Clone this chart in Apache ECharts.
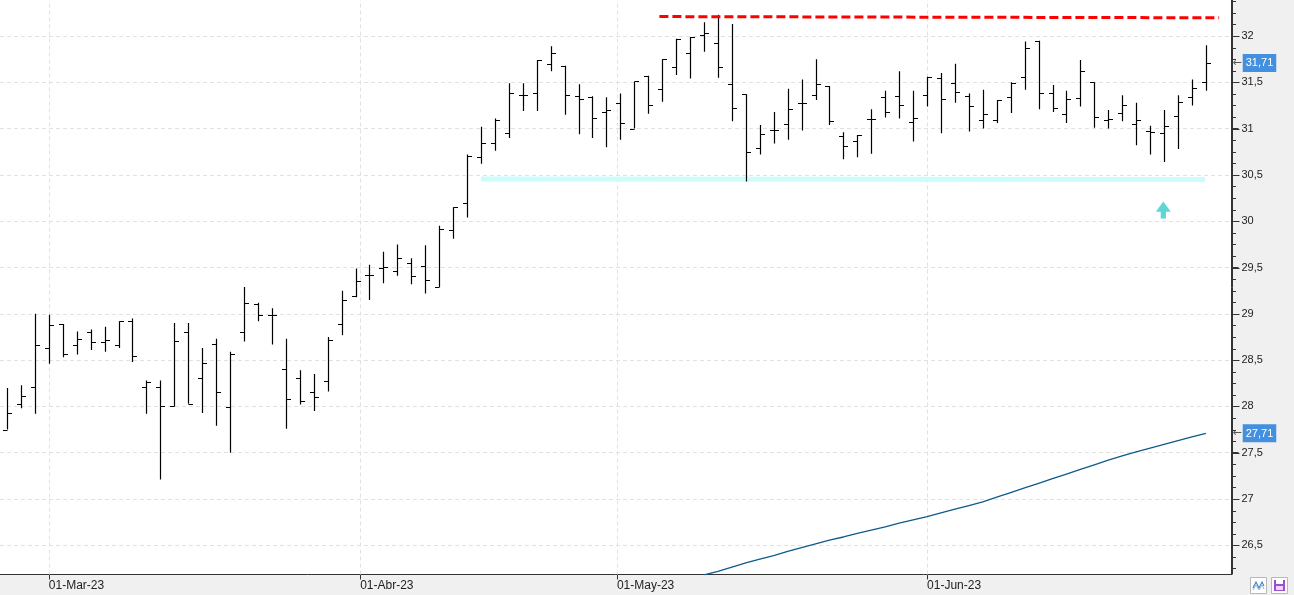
<!DOCTYPE html>
<html>
<head>
<meta charset="utf-8">
<script src="https://cdn.jsdelivr.net/npm/echarts@6/dist/echarts.min.js"></script>
<style>html,body{margin:0;padding:0;background:#f0f0f0}#c{width:1294px;height:595px}</style>
</head>
<body>
<div id="c"></div>
<script>
// ---- data (trading days) ----
const dates = [
 '2023-02-24','2023-02-27','2023-02-28',
 '2023-03-01','2023-03-02','2023-03-03','2023-03-06','2023-03-07','2023-03-08','2023-03-09','2023-03-10',
 '2023-03-13','2023-03-14','2023-03-15','2023-03-16','2023-03-17','2023-03-20','2023-03-21','2023-03-22',
 '2023-03-23','2023-03-24','2023-03-27','2023-03-28','2023-03-29','2023-03-30','2023-03-31',
 '2023-04-03','2023-04-04','2023-04-05','2023-04-06','2023-04-11','2023-04-12','2023-04-13','2023-04-14',
 '2023-04-17','2023-04-18','2023-04-19','2023-04-20','2023-04-21','2023-04-24','2023-04-25','2023-04-26',
 '2023-04-27','2023-04-28',
 '2023-05-02','2023-05-03','2023-05-04','2023-05-05','2023-05-08','2023-05-09','2023-05-10','2023-05-11',
 '2023-05-12','2023-05-15','2023-05-16','2023-05-17','2023-05-18','2023-05-19','2023-05-22','2023-05-23',
 '2023-05-24','2023-05-25','2023-05-26','2023-05-29','2023-05-30','2023-05-31',
 '2023-06-01','2023-06-02','2023-06-05','2023-06-06','2023-06-07','2023-06-08','2023-06-09','2023-06-12',
 '2023-06-13','2023-06-14','2023-06-15','2023-06-16','2023-06-19','2023-06-20','2023-06-21','2023-06-22',
 '2023-06-23','2023-06-26','2023-06-27','2023-06-28','2023-06-29'
];
const opens = [27.75,28.03,28.21,28.63,28.89,28.66,28.80,28.70,28.66,28.92,28.21,28.21,28.00,28.80,28.31,28.67,27.99,28.80,29.11,28.99,28.40,28.31,28.16,28.27,28.89,29.19,29.42,29.50,29.46,29.55,29.52,29.29,29.91,30.20,30.69,30.85,30.95,31.36,31.38,31.70,31.68,31.35,31.34,31.18,31.28,31.00,31.57,31.43,31.67,31.82,32.01,31.93,31.48,31.37,30.79,30.98,31.05,31.28,31.36,31.46,30.92,30.87,31.10,31.34,31.35,31.07,31.36,31.55,31.49,31.35,31.09,31.09,31.34,31.56,31.95,31.38,31.16,31.33,31.50,31.09,31.17,31.05,30.97,30.95,31.14,31.34,31.50];
const highs = [28.20,28.23,29.00,28.99,28.89,28.81,28.83,28.86,28.92,28.95,28.28,28.28,28.90,28.90,28.63,28.73,28.59,29.29,29.12,29.06,28.73,28.39,28.35,28.75,29.25,29.49,29.53,29.67,29.75,29.60,29.74,29.95,30.15,30.72,31.02,31.11,31.49,31.49,31.74,31.89,31.68,31.48,31.35,31.34,31.38,31.51,31.57,31.75,31.97,31.99,32.15,32.23,32.13,31.37,31.04,31.18,31.43,31.53,31.75,31.46,30.96,30.93,31.21,31.41,31.62,31.41,31.56,31.60,31.70,31.38,31.42,31.31,31.50,31.94,31.95,31.47,31.41,31.74,31.50,31.20,31.36,31.28,31.03,31.20,31.36,31.53,31.90];
const lows = [27.75,27.98,27.92,28.46,28.53,28.56,28.61,28.59,28.63,28.48,27.92,27.21,28.00,28.03,27.93,27.79,27.50,28.70,28.92,28.67,27.76,28.02,27.95,28.16,28.77,29.18,29.15,29.33,29.41,29.32,29.22,29.29,29.81,30.04,30.62,30.76,30.90,31.19,31.19,31.62,31.15,30.94,30.90,30.80,30.88,31.00,31.16,31.29,31.58,31.54,31.83,31.55,31.08,30.43,30.72,30.84,30.88,30.98,31.31,31.04,30.67,30.69,30.73,31.12,31.11,30.86,31.24,30.95,31.28,30.97,31.00,31.06,31.17,31.42,31.21,31.18,31.06,31.24,31.01,31.00,31.08,30.82,30.72,30.64,30.78,31.25,31.41];
const closes = [27.93,28.11,28.66,28.88,28.57,28.73,28.70,28.72,28.92,28.54,28.26,28.00,28.71,28.03,28.47,28.16,28.57,29.12,28.99,28.99,28.08,28.06,28.10,28.72,29.15,29.35,29.42,29.51,29.60,29.41,29.37,29.92,30.15,30.70,30.85,31.09,31.39,31.36,31.74,31.82,31.36,31.32,31.11,31.20,31.06,31.51,31.25,31.75,31.97,31.99,32.03,31.67,31.22,30.75,30.94,30.98,31.21,31.28,31.48,31.08,30.81,30.93,31.10,31.18,31.26,31.11,31.56,31.32,31.40,31.24,31.16,31.31,31.49,31.87,31.38,31.22,31.32,31.62,31.13,31.10,31.26,31.09,30.96,31.03,31.29,31.44,31.71];
// moving average (visible part, starting at trading-day index maStart)
const maStart = 50;
const maValues = [26.18,26.22,26.265,26.31,26.35,26.39,26.435,26.475,26.515,26.555,26.59,26.63,26.665,26.70,26.74,26.775,26.81,26.85,26.89,26.93,26.97,27.02,27.07,27.12,27.17,27.22,27.27,27.32,27.37,27.42,27.465,27.51,27.55,27.59,27.63,27.67,27.71];
// drawn annotations: [trading-day index, price]
const resistance = [[46.8, 32.21], [86.95, 32.197]];
const support = [[34.0, 30.455], [85.95, 30.45]];
const signalArrow = [[82.95, 30.12]];
// axis ticks
const monthStarts = ['2023-03-01','2023-04-01','2023-05-01','2023-06-01'];
const monthLabels = ['01-Mar-23','01-Abr-23','01-May-23','01-Jun-23'];
const yMajorTicks = [26.5,27,27.5,28,28.5,29,29.5,30,30.5,31,31.5,32];
const yMinorStep = 0.125;

// ---- build ----
const X_MIN = -0.502, X_MAX = 87.84, Y_MIN = 26.185, Y_MAX = 32.389;
function dayNum(s){ return Date.parse(s + 'T00:00:00Z') / 86400000; }
const monthPos = monthStarts.map(function(m){
  const mv = dayNum(m);
  for (let i = 0; i < dates.length - 1; i++) {
    const a = dayNum(dates[i]), b = dayNum(dates[i+1]);
    if (mv >= a && mv < b) return i + (mv - a) / (b - a);
  }
  return dates.length - 1;
});
const ohlc = dates.map(function(d, i){ return [i, opens[i], highs[i], lows[i], closes[i]]; });
const maData = maValues.map(function(v, k){ return [maStart + k, v]; });
const fmt = function(v){ return String(v).replace('.', ','); };
const lastIdx = closes.length - 1;
const lastClose = closes[lastIdx];
const lastMa = maValues[maValues.length - 1];
const yMinorTicks = [];
for (let v = 26.25; v < Y_MAX; v += yMinorStep) {
  if (yMajorTicks.indexOf(Math.round(v * 1000) / 1000) < 0) yMinorTicks.push(Math.round(v * 1000) / 1000);
}

const chart = echarts.init(document.getElementById('c'), null, {renderer: 'canvas'});
const FONT = 'Liberation Sans, Arial, sans-serif';
const grid = '#e1e1e1';
const AX = '#333333';

function priceTagSeries(v){
  return {
    type: 'line', data: [[lastIdx, v]], showSymbol: false, symbol: 'none', clip: false, silent: true, z: 6,
    lineStyle: {width: 0, color: 'rgba(0,0,0,0)'},
    markLine: {
      silent: true, symbol: ['none','none'], z: 6,
      lineStyle: {width: 0, color: 'rgba(0,0,0,0)'},
      label: {
        show: true, position: 'end', distance: 1,
        formatter: '{a|←}{b|' + fmt(v.toFixed(2)) + '}',
        rich: {
          a: {color: '#555', fontSize: 11, fontFamily: 'DejaVu Sans', padding: [0, 1, 0, 0]},
          b: {color: '#fff', backgroundColor: '#4390e0', fontSize: 11, fontFamily: FONT, padding: [4, 3, 3, 3]}
        }
      },
      data: [{yAxis: v}]
    }
  };
}

chart.setOption({
  animation: false,
  backgroundColor: '#f0f0f0',
  grid: {left: 0, right: 62.5, top: 0, bottom: 20.5, show: true, backgroundColor: '#fff', borderWidth: 0},
  xAxis: {
    type: 'value', min: X_MIN, max: X_MAX,
    splitLine: {show: false},
    axisLine: {show: true, onZero: false, lineStyle: {color: AX, width: 1}},
    axisTick: {show: true, customValues: monthPos, length: 5, lineStyle: {color: AX}},
    axisLabel: {
      customValues: monthPos, align: 'left', margin: 5, fontSize: 12, color: '#222', fontFamily: FONT,
      formatter: function(v){
        let best = 0;
        monthPos.forEach(function(p, k){ if (Math.abs(p - v) < Math.abs(monthPos[best] - v)) best = k; });
        return monthLabels[best];
      }
    }
  },
  yAxis: {
    type: 'value', position: 'right', min: Y_MIN, max: Y_MAX,
    minInterval: 0.5, maxInterval: 0.5,
    axisLine: {show: true, onZero: false, lineStyle: {color: AX, width: 1}},
    axisTick: {show: true, length: 7, lineStyle: {color: AX, width: 1}},
    minorTick: {show: false},
    splitLine: {show: true, showMinLine: false, showMaxLine: false, lineStyle: {color: grid, type: [4, 3], width: 1}},
    axisLabel: {
      margin: 10, fontSize: 11, color: '#222', fontFamily: FONT, showMinLabel: false, showMaxLabel: false,
      formatter: function(v){ return fmt(v); }
    }
  },
  series: [
    {
      type: 'line', name: 'soporte', z: 1, data: support, showSymbol: false, silent: true,
      lineStyle: {color: '#ccfcfc', width: 5},
      markLine: {
        silent: true, z: 1, symbol: ['none','none'], label: {show: false},
        lineStyle: {color: grid, type: [4, 3], width: 1},
        data: monthPos.map(function(p){ return {xAxis: p}; })
      }
    },
    {
      type: 'line', name: 'media', z: 2, data: maData, showSymbol: false, clip: true,
      lineStyle: {color: '#0e5a8c', width: 1.3}
    },
    {
      type: 'custom', name: 'precio', z: 3, data: ohlc, clip: true,
      renderItem: function(params, api){
        const i = api.value(0);
        const pO = api.coord([i, api.value(1)]);
        const pH = api.coord([i, api.value(2)]);
        const pL = api.coord([i, api.value(3)]);
        const pC = api.coord([i, api.value(4)]);
        const x = Math.round(pH[0]) + 0.5;
        const yo = Math.round(pO[1]) + 0.5, yc = Math.round(pC[1]) + 0.5;
        const st = {stroke: '#000', lineWidth: 1.2};
        return {type: 'group', children: [
          {type: 'line', shape: {x1: x, y1: pH[1], x2: x, y2: pL[1]}, style: st},
          {type: 'line', shape: {x1: x - 4.5, y1: yo, x2: x, y2: yo}, style: st},
          {type: 'line', shape: {x1: x, y1: yc, x2: x + 4.5, y2: yc}, style: st}
        ]};
      }
    },
    {
      type: 'line', name: 'resistencia', z: 4, data: resistance, showSymbol: false, silent: true,
      lineStyle: {color: '#ff0000', width: 3, type: [9, 4]}
    },
    {
      type: 'scatter', name: 'señal', z: 5, data: signalArrow, silent: true,
      symbol: 'path://M7.3,0 L14.7,10 L9.9,10 L9.9,16.7 L4.8,16.7 L4.8,10 L0,10 Z',
      symbolSize: [15, 17], itemStyle: {color: '#36cccc'}
    },
    priceTagSeries(lastClose),
    priceTagSeries(lastMa),
    {
      // price-axis line with major and minor ticks, placed through the axis scales
      type: 'custom', name: 'ejeY', z: 10, clip: false, silent: true, data: [[X_MAX, Y_MIN]],
      renderItem: function(params, api){
        const top = api.coord([X_MAX, Y_MAX]);
        const bot = api.coord([X_MAX, Y_MIN]);
        const x = Math.round(top[0]) + 0.5;
        const st = {stroke: AX, lineWidth: 1};
        const kids = [{type: 'line', shape: {x1: x, y1: top[1], x2: x, y2: bot[1]}, style: st}];
        yMajorTicks.forEach(function(v){
          const y = Math.round(api.coord([X_MAX, v])[1]) + 0.5;
          kids.push({type: 'line', shape: {x1: x, y1: y, x2: x + 7, y2: y}, style: st});
        });
        yMinorTicks.forEach(function(v){
          const y = Math.round(api.coord([X_MAX, v])[1]) + 0.5;
          kids.push({type: 'line', shape: {x1: x, y1: y, x2: x + 3.5, y2: y}, style: st});
        });
        return {type: 'group', children: kids};
      }
    }
  ],
  graphic: [
    {type: 'rect', shape: {x: 1250.5, y: 577.5, width: 16, height: 16}, style: {fill: '#fff', stroke: '#b8b8b8', lineWidth: 1}},
    {type: 'polyline', shape: {points: [[1253,588],[1256,582],[1259,588],[1262,582],[1264,586]]}, style: {stroke: '#4a86c8', lineWidth: 1.2, fill: null}},
    {type: 'polyline', shape: {points: [[1253,590],[1256,585],[1259,590],[1262,585],[1264,589]]}, style: {stroke: '#8fb6e0', lineWidth: 1, fill: null}},
    {type: 'rect', shape: {x: 1271.5, y: 577.5, width: 16, height: 16}, style: {fill: '#fff', stroke: '#b8b8b8', lineWidth: 1}},
    {type: 'rect', shape: {x: 1274, y: 580, width: 11, height: 11}, style: {fill: '#9a4fd0'}},
    {type: 'rect', shape: {x: 1276, y: 580, width: 7, height: 4}, style: {fill: '#fff'}},
    {type: 'rect', shape: {x: 1276, y: 586, width: 7, height: 4}, style: {fill: '#e8d8f4'}}
  ]
});
</script>
</body>
</html>
